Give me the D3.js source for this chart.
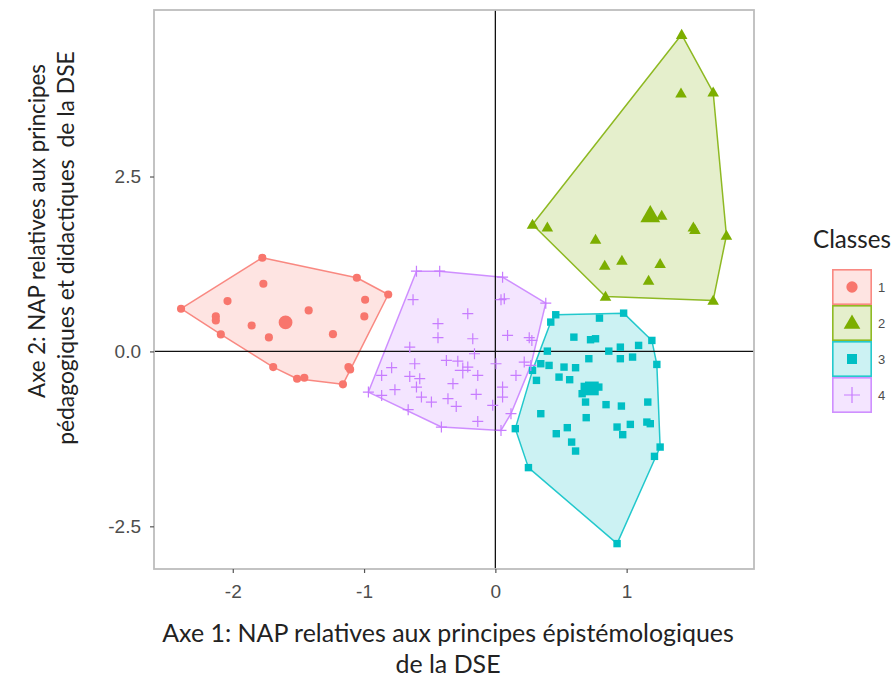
<!DOCTYPE html>
<html>
<head>
<meta charset="utf-8">
<script src="https://cdn.jsdelivr.net/npm/d3@7"></script>
<style>
    body { margin: 0; background: #fff; }
    .axis-title { font-family: Lato, "Open Sans", sans-serif; fill: #222; }
</style>
</head>
<body>
<div id="chart"></div>
<script>

// classes + ggplot default hue colours
let classLabels = ["1", "2", "3", "4"];
let classColors = ["#F8766D", "#7CAE00", "#00BFC4", "#C77CFF"];

// individuals, [axe 1, axe 2]
let class1 = [
    [-2.394, 0.61], [-1.775, 1.339], [-1.055, 1.053], [-0.816, 0.814], [-0.992, 0.739],
    [-0.998, 0.5], [-1.767, 0.967], [-2.04, 0.719], [-2.129, 0.5], [-2.129, 0.443],
    [-1.422, 0.586], [-1.856, 0.371], [-1.725, 0.2], [-1.237, 0.247], [-2.091, 0.243],
    [-1.692, -0.224], [-1.51, -0.39], [-1.455, -0.376], [-1.119, -0.224], [-1.106, -0.257],
    [-1.161, -0.471]
];

let class2 = [
    [1.419, 4.529], [1.659, 3.704], [1.414, 3.69], [0.283, 1.814], [0.396, 1.776],
    [1.267, 1.943], [1.508, 1.776], [1.52, 1.739], [1.76, 1.657], [0.763, 1.6],
    [0.833, 1.229], [0.964, 1.3], [1.255, 1.253], [1.167, 1.014], [0.839, 0.786],
    [1.659, 0.729]
];

let class3 = [
    [0.46, 0.524], [0.422, 0.419], [0.977, 0.547], [0.793, 0.476], [1.192, 0.157],
    [0.598, 0.204], [0.725, 0.167], [0.763, 0.181], [1.091, 0.086], [0.952, 0.061],
    [0.864, 0.004], [0.396, 0.004], [0.712, -0.104], [0.952, -0.104], [1.045, -0.081],
    [1.23, -0.186], [0.346, -0.176], [0.409, -0.2], [0.523, -0.224], [0.611, -0.233],
    [0.283, -0.271], [0.485, -0.367], [0.566, -0.404], [0.313, -0.414], [0.677, -0.5],
    [0.661, -0.604], [0.788, -0.51], [0.687, -0.724], [0.843, -0.761], [0.96, -0.781],
    [1.161, -0.724], [0.346, -0.89], [0.692, -0.947], [1.154, -1.01], [1.18, -1.033],
    [1.028, -1.043], [0.927, -1.081], [0.97, -1.19], [0.548, -1.09], [0.464, -1.176],
    [0.581, -1.296], [0.611, -1.424], [0.152, -1.104], [1.255, -1.367], [1.212, -1.5],
    [0.252, -1.661], [0.927, -2.747]
];

let class4 = [
    [-0.601, 1.147], [-0.424, 1.147], [0.055, 1.061], [0.384, 0.69], [0.068, 0.753],
    [0.043, 0.739], [-0.627, 0.739], [-0.21, 0.539], [-0.437, 0.396], [-0.437, 0.196],
    [-0.172, 0.181], [0.093, 0.229], [0.258, 0.196], [0.278, 0.157], [-0.652, 0.061],
    [-0.159, -0.033], [-0.373, -0.129], [-0.286, -0.139], [-0.21, -0.224], [-0.614, -0.176],
    [-0.79, -0.233], [-0.866, -0.343], [-0.652, -0.357], [-0.576, -0.39], [-0.134, -0.343],
    [0.005, -0.176], [0.157, -0.343], [0.22, -0.153], [0.27, -0.2], [-0.323, -0.461],
    [-0.601, -0.51], [-0.765, -0.547], [0.055, -0.51], [-0.967, -0.581], [-0.866, -0.629],
    [-0.146, -0.614], [0.055, -0.653], [-0.563, -0.653], [-0.487, -0.724], [-0.361, -0.676],
    [-0.298, -0.786], [-0.02, -0.771], [-0.664, -0.833], [0.119, -0.89], [-0.134, -1.0],
    [-0.411, -1.081], [0.043, -1.129]
];

// class centres (drawn bigger)
let centers = [[-1.598, 0.414], [1.18, 1.943], [0.735, -0.529], [-0.248, -0.271]];

// axis ticks
let xTicks = [-2, -1, 0, 1];
let yTicks = [-2.5, 0, 2.5];
let xTickLabels = ["-2", "-1", "0", "1"];
let yTickLabels = ["-2.5", "0.0", "2.5"];


class ClusterVis {

    constructor(parentElement, groups, centers) {
        this.parentElement = parentElement;
        this.groups = groups;
        this.centers = centers;

        this.initVis();
    }

    initVis() {
        let vis = this;

        vis.width = 895;
        vis.height = 683;

        // panel box in pixels
        vis.panel = {left: 154, right: 754, top: 10, bottom: 569};

        vis.svg = d3.select("#" + vis.parentElement).append("svg")
            .attr("width", vis.width)
            .attr("height", vis.height);

        vis.x = d3.scaleLinear()
            .domain([-2.6, 1.97])
            .range([vis.panel.left, vis.panel.right]);

        vis.y = d3.scaleLinear()
            .domain([-3.11, 4.88])
            .range([vis.panel.bottom, vis.panel.top]);

        // symbol types, plus sign (class 4) drawn by hand
        vis.shapes = [d3.symbolCircle, d3.symbolTriangle, d3.symbolSquare, null];

        vis.wrangleData();
    }

    wrangleData() {
        let vis = this;

        // one object per class with points and its hull
        vis.displayData = vis.groups.map((pts, i) => {
            let all = pts.concat([vis.centers[i]]);
            return {
                label: classLabels[i],
                color: classColors[i],
                shape: i,
                points: pts,
                center: vis.centers[i],
                hull: d3.polygonHull(all.map(p => [vis.x(p[0]), vis.y(p[1])]))
            };
        });

        vis.updateVis();
    }

    drawMark(sel, shape, color, big) {
        let vis = this;
        if (shape === 3) {
            // plus sign
            let a = big ? 8 : 5.5;
            sel.append("path")
                .attr("d", `M${-a},0H${a}M0,${-a}V${a}`)
                .attr("stroke", color)
                .attr("stroke-width", 1.2)
                .attr("fill", "none");
        } else {
            let sizes = big ? [150, 170, 190] : [52, 58, 55];
            let t = shape === 1 ? "translate(0,1)" : null;
            sel.append("path")
                .attr("d", d3.symbol().type(vis.shapes[shape]).size(sizes[shape])())
                .attr("transform", t)
                .attr("fill", color);
        }
    }

    // shrink / grow a text so it spans the width seen in the picture
    fitText(sel, target) {
        let fs = parseFloat(sel.style("font-size"));
        let w = sel.node().getComputedTextLength();
        sel.style("font-size", (fs * target / w).toFixed(2) + "px");
    }

    updateVis() {
        let vis = this;

        // hulls
        vis.svg.append("g")
            .attr("class", "hulls")
            .selectAll("path")
            .data(vis.displayData)
            .enter()
            .append("path")
            .attr("d", d => "M" + d.hull.join("L") + "Z")
            .attr("fill", d => d.color)
            .attr("fill-opacity", 0.2)
            .attr("stroke", d => d.color)
            .attr("stroke-opacity", 0.85)
            .attr("stroke-width", 1.5)
            .attr("stroke-linejoin", "round");

        // reference lines through the origin
        vis.svg.append("line")
            .attr("x1", vis.panel.left).attr("x2", vis.panel.right)
            .attr("y1", vis.y(0)).attr("y2", vis.y(0))
            .attr("stroke", "#111").attr("stroke-width", 1.3);

        vis.svg.append("line")
            .attr("x1", vis.x(0)).attr("x2", vis.x(0))
            .attr("y1", vis.panel.top).attr("y2", vis.panel.bottom)
            .attr("stroke", "#111").attr("stroke-width", 1.3);

        // points
        vis.displayData.forEach(d => {
            let g = vis.svg.append("g").attr("class", "class-" + d.label);

            g.selectAll("g.pt")
                .data(d.points)
                .enter()
                .append("g")
                .attr("class", "pt")
                .attr("transform", p => `translate(${vis.x(p[0])},${vis.y(p[1])})`)
                .each(function() {
                    vis.drawMark(d3.select(this), d.shape, d.color, false);
                });

            let c = g.append("g")
                .attr("transform", `translate(${vis.x(d.center[0])},${vis.y(d.center[1])})`);
            vis.drawMark(c, d.shape, d.color, true);
        });

        // panel border
        vis.svg.append("rect")
            .attr("x", vis.panel.left)
            .attr("y", vis.panel.top)
            .attr("width", vis.panel.right - vis.panel.left)
            .attr("height", vis.panel.bottom - vis.panel.top)
            .attr("fill", "none")
            .attr("stroke", "#bdbdbd")
            .attr("stroke-width", 1.8);

        // axes
        let xAxis = vis.svg.append("g")
            .attr("transform", `translate(0, ${vis.panel.bottom})`)
            .call(d3.axisBottom(vis.x).tickValues(xTicks)
                .tickFormat((d, i) => xTickLabels[i]).tickSize(4).tickPadding(12));

        let yAxis = vis.svg.append("g")
            .attr("transform", `translate(${vis.panel.left}, 0)`)
            .call(d3.axisLeft(vis.y).tickValues(yTicks)
                .tickFormat((d, i) => yTickLabels[i]).tickSize(4).tickPadding(9));

        [xAxis, yAxis].forEach(a => {
            a.select(".domain").remove();
            a.selectAll(".tick line").attr("stroke", "#555").attr("stroke-width", 1.2);
            a.selectAll(".tick text")
                .style("font-family", "'Liberation Sans', Arial, sans-serif")
                .style("font-size", "19px")
                .style("fill", "#4d4d4d");
        });

        // axis titles
        let xt1 = vis.svg.append("text")
            .attr("class", "axis-title")
            .attr("x", 448).attr("y", 642)
            .attr("text-anchor", "middle")
            .style("font-size", "20px")
            .text("Axe 1: NAP relatives aux principes épistémologiques");
        vis.fitText(xt1, 572);

        vis.svg.append("text")
            .attr("class", "axis-title")
            .attr("x", 448).attr("y", 673)
            .attr("text-anchor", "middle")
            .style("font-size", xt1.style("font-size"))
            .text("de la DSE");

        let yt1 = vis.svg.append("text")
            .attr("class", "axis-title")
            .attr("transform", "translate(45, 231) rotate(-90)")
            .attr("text-anchor", "middle")
            .style("font-size", "20px")
            .text("Axe 2: NAP relatives aux principes");
        vis.fitText(yt1, 334);

        let yt2 = vis.svg.append("text")
            .attr("class", "axis-title")
            .attr("transform", "translate(74, 248) rotate(-90)")
            .attr("text-anchor", "middle")
            .style("font-size", "20px")
            .style("white-space", "pre")
            .text("pédagogiques et didactiques  de la DSE");
        vis.fitText(yt2, 394);

        // legend
        vis.legend = vis.svg.append("g")
            .attr("class", "legend")
            .attr("transform", "translate(832, 269)");

        let lt = vis.legend.append("text")
            .attr("class", "axis-title")
            .attr("x", -19).attr("y", -21)
            .style("font-size", "20px")
            .text("Classes");
        vis.fitText(lt, 78);

        let keys = vis.legend.selectAll("g.key")
            .data(vis.displayData)
            .enter()
            .append("g")
            .attr("class", "key")
            .attr("transform", (d, i) => `translate(0, ${i * 36})`);

        keys.append("rect")
            .attr("x", 0.8).attr("y", 0.8)
            .attr("width", 38.4).attr("height", 34.4)
            .attr("fill", d => d.color)
            .attr("fill-opacity", 0.2)
            .attr("stroke", d => d.color)
            .attr("stroke-opacity", 0.85)
            .attr("stroke-width", 1.6);

        keys.each(function(d) {
            let k = d3.select(this).append("g").attr("transform", "translate(20, 18)");
            if (d.shape === 3) {
                k.append("path")
                    .attr("d", "M-8,0H8M0,-8V8")
                    .attr("stroke", d.color)
                    .attr("stroke-width", 1.2);
            } else {
                let sizes = [100, 120, 100];
                k.append("path")
                    .attr("d", d3.symbol().type(vis.shapes[d.shape]).size(sizes[d.shape])())
                    .attr("transform", d.shape === 1 ? "translate(0,1)" : null)
                    .attr("fill", d.color);
            }
        });

        keys.append("text")
            .attr("x", 46).attr("y", 18)
            .attr("dy", "0.35em")
            .style("font-family", "'Liberation Sans', Arial, sans-serif")
            .style("font-size", "13px")
            .style("fill", "#4d4d4d")
            .text(d => d.label);
    }
}

new ClusterVis("chart", [class1, class2, class3, class4], centers);

</script>
</body>
</html>
